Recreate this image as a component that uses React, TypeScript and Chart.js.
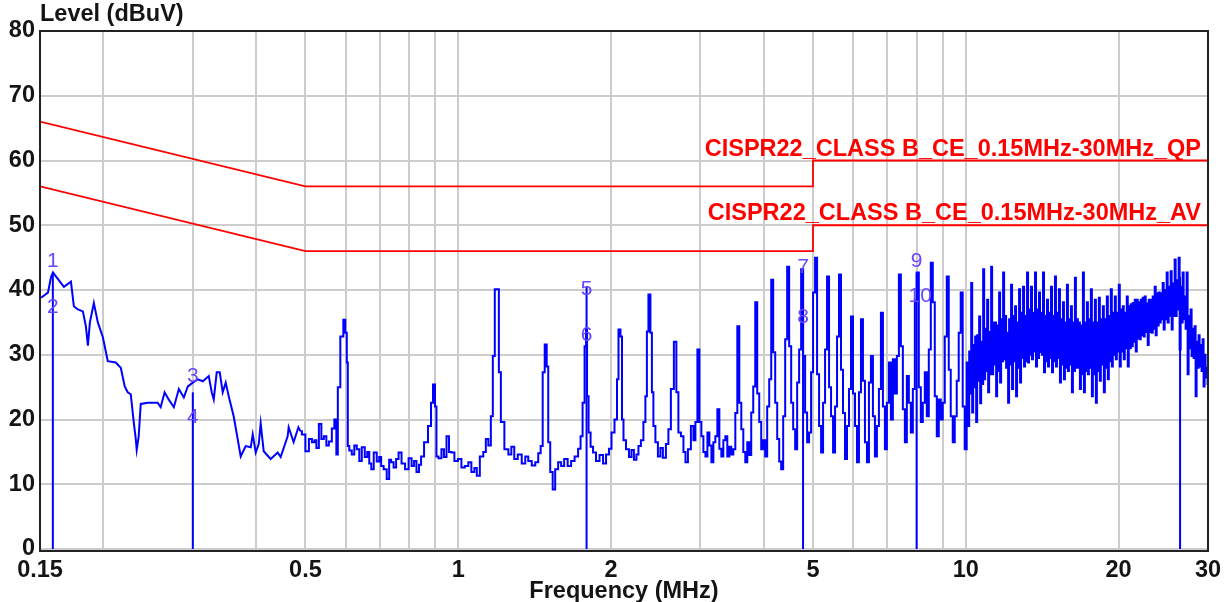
import React, { useEffect, useRef } from 'react';
import { Chart, registerables } from 'chart.js';

Chart.register(...registerables);

const FONT = '"Liberation Sans", Arial, Helvetica, sans-serif';
const TEXT_COLOR = '#141414';
const TRACE_COLOR = '#0000ff';
const LIMIT_COLOR = '#ff0000';
const MARKER_TEXT_COLOR = '#6a46ff';

// ---- axis ticks ----
const gridFreqs = [0.15, 0.2, 0.3, 0.4, 0.5, 0.6, 0.7, 0.8, 0.9, 1, 2, 3, 4, 5, 6, 7, 8, 9, 10, 20, 30];
const labeledFreqs = [0.15, 0.5, 1, 2, 5, 10, 20, 30];

// ---- limit lines ----
const qpLabel = 'CISPR22_CLASS B_CE_0.15MHz-30MHz_QP';
const qpFreq = [0.15, 0.5, 5, 5, 30];
const qpLevel = [66, 56, 56, 60, 60];
const avLabel = 'CISPR22_CLASS B_CE_0.15MHz-30MHz_AV';
const avFreq = [0.15, 0.5, 5, 5, 30];
const avLevel = [56, 46, 46, 50, 50];

// ---- measured trace (MHz / dBuV) ----
const lowBandFreq = [0.1507, 0.1555, 0.1577, 0.1591, 0.1672, 0.1726, 0.1749, 0.1781, 0.1822, 0.1847, 0.1864, 0.1881, 0.1915, 0.195, 0.1995, 0.204, 0.2115, 0.2164, 0.2203, 0.2233, 0.2264, 0.2295, 0.2316, 0.2326, 0.2347, 0.2369, 0.2445, 0.2558, 0.2593, 0.264, 0.2689, 0.2753, 0.2816, 0.288, 0.2933, 0.3, 0.3069, 0.3139, 0.3225, 0.3269, 0.3299, 0.3344, 0.339, 0.3436, 0.3483, 0.3531, 0.3611, 0.3677, 0.3728, 0.3813, 0.3902, 0.3937, 0.3991, 0.4046, 0.4082, 0.4138, 0.4271, 0.4409, 0.4469, 0.4613, 0.4634, 0.474, 0.4844];
const lowBandLevel = [38.8, 39.6, 42, 42.7, 40.5, 41.3, 37.5, 37, 36.7, 34.4, 31.4, 35, 38, 35, 32.7, 29, 28.8, 28, 25.1, 24.2, 23.9, 19.6, 17, 15.3, 17.4, 22.4, 22.6, 22.6, 21.9, 24.2, 23.1, 21.9, 24.7, 23.4, 25.1, 25.7, 26.2, 25.9, 26.7, 24.2, 23.1, 27.3, 27.3, 24.2, 25.7, 23.6, 20.5, 17, 14.3, 15.9, 15.7, 17.7, 14.9, 16.2, 19.4, 15.1, 13.9, 14.9, 14.2, 17.4, 18.8, 16.5, 18.8];

const midBandFreq = [0.4888, 0.4955, 0.5045, 0.5115, 0.5184, 0.5231, 0.5279, 0.5351, 0.54, 0.5474, 0.5523, 0.5599, 0.5675, 0.5727, 0.5779, 0.5805, 0.5911, 0.5965, 0.6019, 0.6046, 0.6074, 0.6129, 0.6213, 0.6269, 0.6355, 0.6413, 0.6501, 0.6589, 0.6649, 0.671, 0.6771, 0.6863, 0.6957, 0.702, 0.708, 0.718, 0.728, 0.7342, 0.741, 0.751, 0.758, 0.768, 0.7786, 0.793, 0.804, 0.815, 0.822, 0.833, 0.841, 0.849, 0.864, 0.88, 0.888, 0.896, 0.904, 0.908, 0.9205, 0.933, 0.9416, 0.955, 0.9631, 0.976, 0.9896, 1.008, 1.0215, 1.04, 1.054, 1.069, 1.083, 1.093, 1.113, 1.128, 1.139, 1.154, 1.165, 1.175, 1.186, 1.197, 1.208, 1.219, 1.247, 1.264, 1.281, 1.298, 1.322, 1.346, 1.365, 1.383, 1.409, 1.428, 1.447, 1.46, 1.474, 1.487, 1.501, 1.508, 1.528, 1.542, 1.563, 1.584, 1.606, 1.628, 1.658, 1.68, 1.711, 1.734, 1.75, 1.766, 1.782, 1.79, 1.798, 1.815, 1.831, 1.856, 1.881, 1.916, 1.942, 1.969, 1.995, 2.014, 2.05, 2.06, 2.078, 2.097, 2.107, 2.126, 2.155, 2.185, 2.204, 2.234, 2.255, 2.275, 2.306, 2.327, 2.348, 2.359, 2.381, 2.402, 2.413, 2.435, 2.457, 2.491, 2.513, 2.548, 2.583, 2.606, 2.642, 2.678, 2.702, 2.728, 2.765, 2.791, 2.816, 2.854, 2.893, 2.92, 2.946, 2.973];
const midBandLevel = [18.2, 17.7, 15.1, 17, 16.5, 16.8, 15.6, 19.3, 17, 17.4, 16, 16.6, 18.6, 20, 14.6, 25, 32.8, 35.4, 33.4, 28.8, 15.9, 15.2, 14.6, 16, 15.4, 13.6, 15.7, 14.2, 15, 13.2, 12.3, 14.9, 13.5, 14.2, 12.8, 12.3, 10.8, 13.8, 13.4, 12.6, 13.9, 14.9, 13.2, 12.3, 14, 12.8, 13.6, 11.9, 13, 14.3, 16.5, 19, 22.6, 25.4, 22, 14.3, 14, 15.4, 14.2, 17.4, 15, 14.9, 13.6, 13.9, 12.6, 12.8, 13.4, 11.9, 12.5, 11.3, 14.3, 15, 17, 16, 20.5, 29.8, 40.1, 40.1, 27.3, 19.6, 15.4, 14.6, 15.8, 13.9, 14.6, 13.2, 14.3, 13.6, 12.9, 13.4, 14.8, 15.9, 27.3, 31.6, 28.2, 16.5, 11.9, 9.2, 12.3, 13.4, 12.8, 13.9, 12.8, 13.6, 14.3, 15.5, 17.4, 22.6, 31.3, 33.9, 23.6, 18, 15.8, 14.9, 13.6, 14.5, 13.2, 14.6, 15.5, 18, 20, 26.2, 33.9, 32.8, 20, 16.8, 15.4, 14.2, 15.3, 13.8, 14.6, 15.9, 16.8, 19.6, 23.6, 33.6, 39.3, 33.4, 24.2, 19, 16.5, 14.3, 15.6, 14.1, 16.2, 18.5, 24.7, 32, 24.2, 18, 17.4, 15, 13.4, 15.4, 19, 16.8, 19.6, 30.8];

const highBandFreq = [3.0, 3.027, 3.055, 3.083, 3.111, 3.139, 3.168, 3.196, 3.225, 3.255, 3.284, 3.314, 3.344, 3.374, 3.405, 3.436, 3.467, 3.499, 3.531, 3.563, 3.595, 3.628, 3.661, 3.694, 3.728, 3.761, 3.795, 3.83, 3.865, 3.9, 3.935, 3.971, 4.007, 4.043, 4.08, 4.118, 4.155, 4.193, 4.231, 4.27, 4.308, 4.347, 4.387, 4.427, 4.467, 4.508, 4.549, 4.59, 4.632, 4.674, 4.716, 4.759, 4.802, 4.846, 4.89, 4.934, 4.979, 5.024, 5.07, 5.116, 5.163, 5.21, 5.257, 5.305, 5.353, 5.402, 5.451, 5.501, 5.551, 5.601, 5.652, 5.703, 5.755, 5.808, 5.86, 5.913, 5.967, 6.021, 6.076, 6.131, 6.187, 6.243, 6.3, 6.357, 6.415, 6.473, 6.532, 6.591, 6.651, 6.712, 6.773, 6.835, 6.897, 6.959, 7.023, 7.087, 7.151, 7.216, 7.282, 7.348, 7.415, 7.482, 7.55, 7.619, 7.688, 7.758, 7.829, 7.9, 7.971, 8.044, 8.117, 8.191, 8.265, 8.34, 8.416, 8.493, 8.57, 8.648, 8.727, 8.806, 8.886, 8.967, 9.048, 9.131, 9.214, 9.297, 9.382, 9.467, 9.553, 9.64, 9.727, 9.815, 9.905, 9.995];
const highBandLevel = [19.6, 17.4, 15.0, 14.3, 18.0, 16.0, 13.4, 16.5, 17.4, 21.6, 15.5, 14.3, 16.8, 17.4, 14.3, 15.8, 14.6, 15.4, 21.0, 34.4, 22.6, 18.5, 15.0, 13.4, 16.5, 14.5, 21.1, 25.1, 38.1, 24.0, 19.6, 15.4, 16.8, 14.3, 22.0, 26.2, 41.6, 30.4, 22.6, 17.0, 13.5, 12.3, 20.5, 32.4, 43.6, 31.3, 22.6, 18.5, 15.4, 25.7, 30.8, 43.2, 29.8, 21.1, 16.5, 18.0, 27.3, 39.6, 45.0, 27.0, 19.0, 14.9, 22.6, 30.8, 42.1, 25.0, 20.5, 14.9, 22.0, 32.8, 42.4, 27.7, 21.0, 13.9, 19.0, 24.7, 35.9, 24.0, 19.0, 13.4, 24.2, 35.5, 26.0, 16.5, 13.4, 25.7, 29.8, 20.5, 14.3, 19.0, 24.7, 36.5, 22.0, 15.4, 22.6, 28.8, 20.0, 29.3, 24.0, 29.8, 42.4, 31.3, 21.6, 16.5, 26.7, 22.6, 18.0, 24.7, 38.5, 42.7, 25.0, 19.6, 22.6, 27.3, 20.5, 30.8, 44.2, 38.1, 23.6, 17.4, 23.1, 20.0, 22.6, 32.8, 42.1, 27.7, 20.5, 16.5, 20.5, 26.0, 33.4, 39.6, 22.0, 15.4];

const topBandFreq = [
  10.086, 10.132, 10.177, 10.223, 10.27, 10.317, 10.363, 10.41, 10.457, 10.504, 10.552, 10.6, 10.648, 10.696, 10.745, 10.794,
  10.843, 10.892, 10.941, 10.991, 11.041, 11.091, 11.141, 11.192, 11.242, 11.293, 11.345, 11.396, 11.448, 11.5, 11.552, 11.604,
  11.657, 11.71, 11.763, 11.816, 11.87, 11.924, 11.978, 12.032, 12.087, 12.142, 12.196, 12.251, 12.307, 12.363, 12.419, 12.475,
  12.532, 12.589, 12.646, 12.703, 12.761, 12.819, 12.877, 12.935, 12.994, 13.053, 13.112, 13.171, 13.232, 13.292, 13.351, 13.412,
  13.472, 13.533, 13.595, 13.657, 13.719, 13.781, 13.843, 13.906, 13.969, 14.032, 14.096, 14.16, 14.224, 14.289, 14.354, 14.419,
  14.484, 14.55, 14.616, 14.682, 14.749, 14.816, 14.883, 14.95, 15.018, 15.086, 15.155, 15.224, 15.292, 15.361, 15.431, 15.501,
  15.571, 15.642, 15.713, 15.784, 15.856, 15.928, 16.0, 16.073, 16.145, 16.218, 16.292, 16.366, 16.44, 16.515, 16.59, 16.665,
  16.741, 16.817, 16.893, 16.97, 17.047, 17.124, 17.202, 17.28, 17.358, 17.437, 17.516, 17.595, 17.675, 17.755, 17.836, 17.917,
  17.998, 18.08, 18.162, 18.244, 18.326, 18.409, 18.493, 18.577, 18.661, 18.746, 18.831, 18.916, 19.002, 19.088, 19.175, 19.262,
  19.349, 19.437, 19.525, 19.614, 19.703, 19.792, 19.882, 19.972, 20.062, 20.153, 20.244, 20.336, 20.428, 20.521, 20.614, 20.707,
  20.801, 20.895, 20.991, 21.086, 21.181, 21.277, 21.374, 21.471, 21.568, 21.666, 21.764, 21.863, 21.962, 22.062, 22.162, 22.262,
  22.363, 22.464, 22.566, 22.668, 22.771, 22.874, 22.979, 23.083, 23.188, 23.293, 23.398, 23.504, 23.611, 23.718, 23.826, 23.934,
  24.042, 24.151, 24.261, 24.371, 24.481, 24.592, 24.704, 24.816, 24.928, 25.041, 25.155, 25.269, 25.384, 25.499, 25.614, 25.73,
  25.847, 25.964, 26.082, 26.2, 26.319, 26.438, 26.558, 26.678, 26.8, 26.922, 27.043, 27.166, 27.289, 27.413, 27.538, 27.663,
  27.788, 27.914, 28.041, 28.168, 28.296, 28.424, 28.553, 28.683, 28.812, 28.943, 29.074, 29.206, 29.339, 29.472, 29.605, 29.739,
  29.874, 30.0,
];
const topBandLevel = [
  28.8, 19.0, 30.5, 24.0, 41.1, 21.1, 31.5, 25.0, 32.8, 19.6, 33.0, 26.0, 35.9, 22.5, 32.0, 25.5,
  43.2, 26.2, 34.0, 27.5, 38.5, 24.2, 33.5, 27.0, 43.6, 27.0, 35.0, 28.5, 35.0, 23.6, 34.5, 27.5,
  39.6, 25.7, 35.5, 29.0, 42.7, 29.3, 36.0, 28.0, 33.4, 22.6, 35.5, 28.5, 40.8, 24.7, 36.0, 29.0,
  37.5, 23.6, 35.0, 28.0, 40.1, 25.7, 36.5, 29.5, 40.5, 28.2, 36.0, 29.0, 42.7, 28.8, 37.0, 30.0,
  40.5, 29.3, 36.5, 30.5, 42.7, 28.2, 37.0, 29.5, 39.6, 30.4, 36.5, 30.0, 42.7, 27.3, 36.0, 29.0,
  38.5, 28.2, 36.5, 29.5, 40.5, 27.3, 36.0, 29.0, 42.1, 28.2, 36.5, 29.5, 40.1, 25.7, 35.5, 28.5,
  38.1, 26.2, 35.0, 28.0, 40.8, 27.5, 35.5, 28.5, 37.5, 24.2, 35.0, 27.5, 41.9, 28.0, 35.5, 28.0,
  35.0, 24.7, 34.5, 27.0, 42.7, 24.2, 35.0, 27.5, 38.1, 27.0, 35.5, 28.0, 40.1, 23.6, 35.0, 27.0,
  38.5, 22.6, 35.0, 27.5, 38.8, 26.0, 35.5, 28.5, 37.5, 24.2, 35.5, 28.0, 39.0, 26.2, 36.0, 29.0,
  40.1, 28.2, 36.5, 30.0, 39.0, 29.3, 36.5, 30.5, 40.8, 28.2, 37.0, 30.5, 37.5, 29.3, 36.5, 31.0,
  39.0, 28.2, 37.5, 31.0, 37.8, 31.3, 38.0, 32.0, 38.5, 30.5, 38.5, 32.5, 38.1, 32.4, 38.5, 33.0,
  38.8, 32.8, 39.0, 33.5, 37.9, 31.5, 38.5, 33.5, 38.5, 33.4, 39.0, 34.0, 40.5, 33.0, 39.5, 34.5,
  39.6, 35.0, 39.5, 35.5, 41.1, 33.9, 40.0, 35.5, 42.7, 35.0, 40.5, 36.0, 42.9, 33.9, 41.0, 36.0,
  44.7, 36.0, 41.5, 37.0, 45.0, 30.8, 40.5, 35.0, 42.7, 35.5, 39.0, 34.0, 42.7, 27.0, 36.0, 31.0,
  37.0, 29.8, 34.0, 29.5, 34.4, 23.6, 32.0, 28.0, 33.0, 28.2, 31.5, 27.5, 32.4, 25.1, 30.0, 26.5,
  28.0, 25.5,
];

// ---- markers ----
const markerFreq = [0.159, 0.3, 1.79, 4.779, 8.0, 26.43];
const markerLevel = [42.5, 24.2, 40.5, 43.0, 42.7, 42.0];
const markerLabelText = ['1', '2', '3', '4', '5', '6', '7', '8', '9', '10'];
const markerLabelFreq = [0.159, 0.159, 0.3, 0.3, 1.79, 1.79, 4.779, 4.779, 8.0, 8.13];
const markerLabelLevel = [44.4, 37.3, 26.7, 20.3, 40.1, 33.0, 43.5, 35.8, 44.4, 39.0];

const toPoints = (fs: number[], ls: number[]) => fs.map((f, i) => ({ x: f, y: ls[i] }));

export default function App() {
  const ref = useRef<HTMLCanvasElement | null>(null);

  useEffect(() => {
    const canvas = ref.current;
    if (!canvas) return;

    // low band drawn as a plain line, the denser part as a sampled (stepped) trace
    const lowPts = [...toPoints(lowBandFreq, lowBandLevel), { x: midBandFreq[0], y: midBandLevel[0] }];
    const sweepPts = [
      ...toPoints(midBandFreq, midBandLevel),
      ...toPoints(highBandFreq, highBandLevel),
      ...toPoints(topBandFreq, topBandLevel),
    ];

    const markerSets = markerFreq.map((f, i) => ({
      label: 'marker' + (i + 1),
      data: [{ x: f, y: 0 }, { x: f, y: markerLevel[i] }],
      borderColor: TRACE_COLOR,
      borderWidth: 2,
      pointRadius: 0,
      fill: false,
    }));

    const overlay = {
      id: 'overlay',
      afterDatasetsDraw(chart: any) {
        const { ctx, chartArea: a, scales } = chart;
        const xs = scales.x;
        const ys = scales.y;
        ctx.save();
        // marker labels
        ctx.font = `21px ${FONT}`;
        ctx.fillStyle = MARKER_TEXT_COLOR;
        ctx.textAlign = 'center';
        ctx.textBaseline = 'middle';
        markerLabelText.forEach((t, i) => {
          ctx.fillText(t, xs.getPixelForValue(markerLabelFreq[i]), ys.getPixelForValue(markerLabelLevel[i]));
        });
        // limit labels
        ctx.font = `bold 23.5px ${FONT}`;
        ctx.fillStyle = LIMIT_COLOR;
        ctx.textAlign = 'right';
        ctx.textBaseline = 'alphabetic';
        ctx.fillText(qpLabel, a.right - 7, ys.getPixelForValue(qpLevel[qpLevel.length - 1]) - 5);
        ctx.fillText(avLabel, a.right - 7, ys.getPixelForValue(avLevel[avLevel.length - 1]) - 5);
        // frame
        ctx.strokeStyle = '#222222';
        ctx.lineWidth = 2;
        ctx.strokeRect(a.left, a.top, a.right - a.left, a.bottom - a.top + 2);
        // y axis title
        ctx.font = `bold 23.5px ${FONT}`;
        ctx.fillStyle = TEXT_COLOR;
        ctx.textAlign = 'left';
        ctx.textBaseline = 'middle';
        ctx.fillText('Level (dBuV)', a.left, 15);
        ctx.restore();
      },
    };

    const tickFont = { family: FONT, size: 23.5, weight: 'bold' as const, lineHeight: 1.2 };
    const titleFont = { family: FONT, size: 23.5, weight: 'bold' as const, lineHeight: 0.9 };

    const chart = new Chart(canvas, {
      type: 'line',
      data: {
        datasets: [
          {
            label: 'Level low',
            data: lowPts,
            borderColor: TRACE_COLOR,
            borderWidth: 2,
            pointRadius: 0,
            tension: 0,
            fill: false,
          },
          {
            label: 'Level',
            data: sweepPts,
            borderColor: TRACE_COLOR,
            borderWidth: 2,
            pointRadius: 0,
            stepped: 'middle',
            fill: false,
          },
          ...markerSets,
          {
            label: 'QP limit',
            data: toPoints(qpFreq, qpLevel),
            borderColor: LIMIT_COLOR,
            borderWidth: 1.8,
            pointRadius: 0,
            fill: false,
          },
          {
            label: 'AV limit',
            data: toPoints(avFreq, avLevel),
            borderColor: LIMIT_COLOR,
            borderWidth: 1.8,
            pointRadius: 0,
            fill: false,
          },
        ] as any,
      },
      options: {
        responsive: false,
        animation: false,
        events: [],
        layout: { padding: { top: 31, right: 23, left: 0, bottom: 0 } },
        plugins: { legend: { display: false }, tooltip: { enabled: false } },
        scales: {
          x: {
            type: 'logarithmic',
            min: 0.15,
            max: 30,
            afterBuildTicks: (s: any) => {
              s.ticks = gridFreqs.map((v) => ({ value: v }));
            },
            afterFit: (s: any) => {
              s.height = 53;
            },
            ticks: {
              autoSkip: false,
              maxRotation: 0,
              minRotation: 0,
              padding: 7,
              color: TEXT_COLOR,
              font: tickFont,
              callback: (v: any) => (labeledFreqs.includes(Number(v)) ? String(v) : ''),
            },
            grid: { color: '#cccccc', lineWidth: 2, drawTicks: false },
            border: { display: false },
            title: {
              display: true,
              text: 'Frequency (MHz)',
              color: TEXT_COLOR,
              font: titleFont,
              padding: { top: 0, bottom: 0 },
            },
          },
          y: {
            type: 'linear',
            min: 0,
            max: 80,
            afterFit: (s: any) => {
              s.width = 40;
            },
            ticks: { stepSize: 10, padding: 5, color: TEXT_COLOR, font: tickFont },
            grid: { color: '#cccccc', lineWidth: 2, drawTicks: false },
            border: { display: false },
          },
        },
      } as any,
      plugins: [overlay],
    });

    return () => chart.destroy();
  }, []);

  return (
    <div style={{ position: 'fixed', left: 0, top: 0, width: 1231, height: 602, background: '#ffffff' }}>
      <canvas ref={ref} width={1231} height={602} style={{ display: 'block', width: 1231, height: 602 }} />
    </div>
  );
}
